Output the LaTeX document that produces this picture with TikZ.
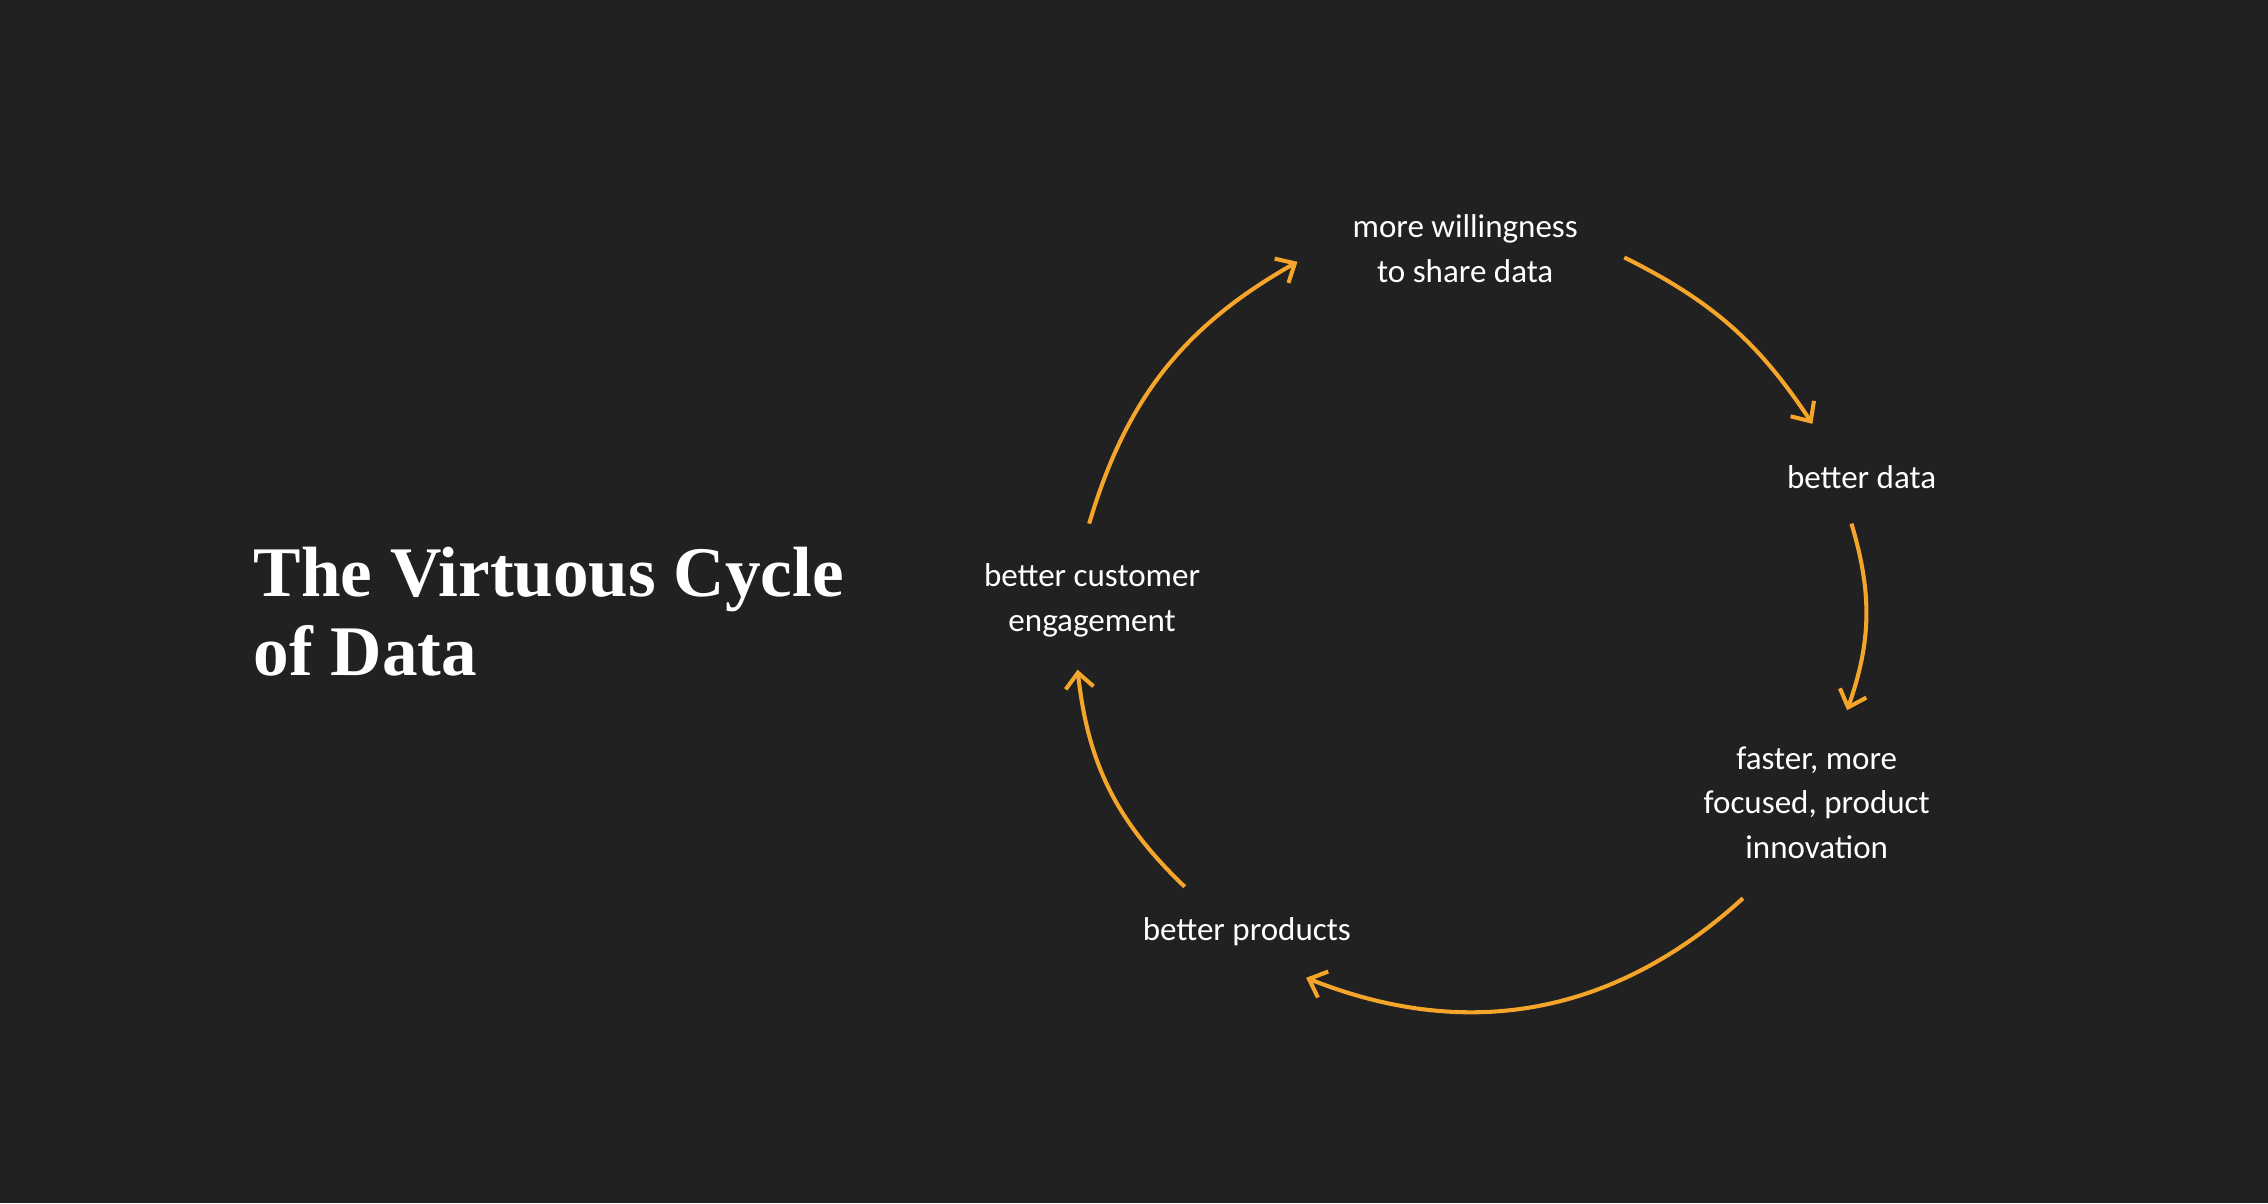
\documentclass[tikz,border=0pt]{standalone}
\usepackage{fontspec}
\setmainfont{Carlito}
\newfontfamily\titlefont{Liberation Serif}
\usetikzlibrary{arrows.meta}
\definecolor{bg}{HTML}{212121}
\definecolor{orng}{HTML}{F5A52A}
\begin{document}
\begin{tikzpicture}[x=0.02cm,y=-0.02cm,
  lbl/.style={text=white,font=\fontsize{13}{17.5}\selectfont,align=center,inner sep=0},
  cyc/.style={draw=orng,line width=1.6pt,-{Straight Barb[length=6pt,width=11pt,line width=1.6pt]}}]
\fill[bg] (0,0) rectangle (1568,832);
\useasboundingbox (0,0) rectangle (1568,832);
\node[anchor=west,text=white,align=left,font=\titlefont\bfseries\fontsize{28}{31}\selectfont,inner sep=0] (title) at (175,423) {The Virtuous Cycle\\of Data};
\node[lbl] (n1) at (1013,172) {more willingness\\to share data};
\node[lbl] (n2) at (1287,330) {better data};
\node[lbl] (n3) at (1256,555) {faster, more\\focused, product\\innovation};
\node[lbl] (n4) at (862,644) {better products};
\node[lbl] (n5) at (755,415) {better customer\\engagement};
\coordinate (a1) at (753,362); \coordinate (b1) at (897,181);
\coordinate (a2) at (1123,178); \coordinate (b2) at (1253,293);
\coordinate (a3) at (1280,362); \coordinate (b3) at (1277,491);
\coordinate (a4) at (1205,621); \coordinate (b4) at (903,676);
\coordinate (a5) at (819,613); \coordinate (b5) at (745,463);
\draw[cyc] (a1) to[bend left=22] (b1);
\draw[cyc] (a2) to[bend left=15] (b2);
\draw[cyc] (a3) to[bend left=18] (b3);
\draw[cyc] (a4) to[bend left=32] (b4);
\draw[cyc] (a5) to[bend left=20] (b5);
\end{tikzpicture}
\end{document}
